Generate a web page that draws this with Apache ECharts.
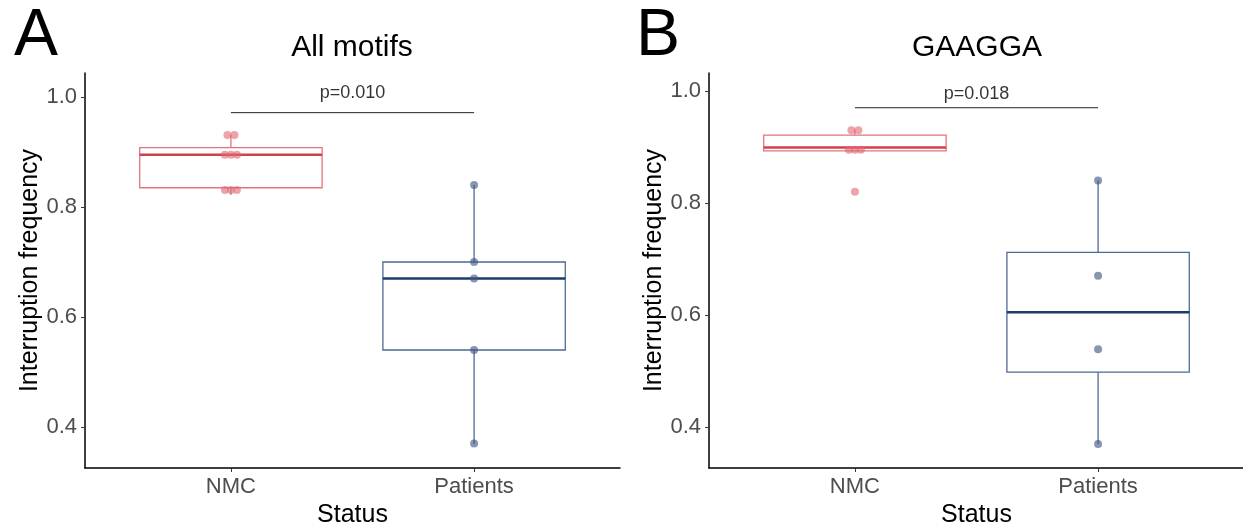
<!DOCTYPE html>
<html>
<head>
<meta charset="utf-8">
<script src="https://cdn.jsdelivr.net/npm/echarts@6/dist/echarts.min.js"></script>
<style>
html,body{margin:0;padding:0;background:#fff;}
#chart{width:1243px;height:527px;}
</style>
</head>
<body>
<div id="chart"></div>
<script>
// ---- data ----
const categories = ['NMC', 'Patients'];
const panelTitles = ['All motifs', 'GAAGGA'];
const panelLetters = ['A', 'B'];
const yTicks = [0.4, 0.6, 0.8, 1.0];
const pValues = ['p=0.010', 'p=0.018'];
const pBarY = [0.9715, 0.970];

// box stats: [min, Q1, median, Q3, max]
const boxA_NMC = [0.822, 0.835, 0.895, 0.908, 0.931];
const boxA_Pat = [0.369, 0.540, 0.670, 0.700, 0.840];
const boxB_NMC = [0.893, 0.893, 0.899, 0.921, 0.930];
const boxB_Pat = [0.370, 0.498, 0.605, 0.712, 0.840];

// individual points
const ptsA_NMC = [0.931, 0.931, 0.895, 0.895, 0.895, 0.831, 0.831, 0.831];
const ptsA_Pat = [0.840, 0.700, 0.670, 0.540, 0.370];
const ptsB_NMC = [0.930, 0.930, 0.895, 0.895, 0.895, 0.820];
const ptsB_Pat = [0.840, 0.670, 0.539, 0.370];

const yRangeA = [0.3255, 1.0436];
const yRangeB = [0.327, 1.032];

// ---- styles ----
const FONT = 'Liberation Sans, Arial, Helvetica, sans-serif';
const colors = [
  {outline: '#e3727c', median: '#d43f4c', point: 'rgba(224,104,114,0.75)'},
  {outline: '#4d6a92', median: '#1d3b6b', point: 'rgba(62,88,130,0.78)'}
];
const pLabelGap = [11, 5];

const chart = echarts.init(document.getElementById('chart'), null, {renderer: 'canvas'});

const grids = [
  {left: 85, top: 73, width: 535, height: 395, outerBoundsMode: 'none', containLabel: false},
  {left: 709, top: 73, width: 535, height: 395, outerBoundsMode: 'none', containLabel: false}
];

function xAxisFor(i) {
  return {
    gridIndex: i, type: 'value', min: 0.4, max: 2.6,
    name: 'Status', nameLocation: 'middle', nameGap: 31,
    nameTextStyle: {fontFamily: FONT, fontSize: 25, color: '#000'},
    axisLine: {show: true, lineStyle: {color: '#000', width: 1.5}},
    axisTick: {show: true, customValues: [1, 2], length: 4, lineStyle: {color: '#333', width: 1}},
    axisLabel: {show: true, customValues: [1, 2], margin: 8,
      formatter: v => categories[Math.round(v) - 1] || '',
      fontFamily: FONT, fontSize: 22, color: '#4d4d4d'},
    splitLine: {show: false}
  };
}
function yAxisFor(i, range) {
  return {
    gridIndex: i, type: 'value', min: range[0], max: range[1],
    name: 'Interruption frequency', nameLocation: 'middle', nameGap: 40, nameRotate: 90,
    nameTextStyle: {fontFamily: FONT, fontSize: 25, color: '#000'},
    axisLine: {show: true, lineStyle: {color: '#000', width: 1.5}},
    axisTick: {show: true, customValues: yTicks, length: 4, lineStyle: {color: '#333', width: 1}},
    axisLabel: {show: true, customValues: yTicks, margin: 8,
      formatter: v => Number(v).toFixed(1),
      fontFamily: FONT, fontSize: 22, color: '#4d4d4d'},
    splitLine: {show: false}
  };
}

function boxSeries(i, boxes) {
  return {
    type: 'custom', xAxisIndex: i, yAxisIndex: i, z: 2,
    data: boxes.map((b, k) => [k + 1].concat(b).concat([k])),
    renderItem: function (params, api) {
      const x = api.value(0);
      const mn = api.value(1), q1 = api.value(2), md = api.value(3), q3 = api.value(4), mx = api.value(5);
      const c = colors[api.value(6)];
      const hw = 0.375;
      const tl = api.coord([x - hw, q3]);
      const br = api.coord([x + hw, q1]);
      const top = api.coord([x, mx]);
      const bot = api.coord([x, mn]);
      const ml = api.coord([x - hw, md]);
      const mr = api.coord([x + hw, md]);
      return {
        type: 'group',
        children: [
          {type: 'line', shape: {x1: top[0], y1: top[1], x2: top[0], y2: tl[1]},
            style: {stroke: c.outline, lineWidth: 1.3}},
          {type: 'line', shape: {x1: bot[0], y1: bot[1], x2: bot[0], y2: br[1]},
            style: {stroke: c.outline, lineWidth: 1.3}},
          {type: 'rect', shape: {x: tl[0], y: tl[1], width: br[0] - tl[0], height: br[1] - tl[1]},
            style: {stroke: c.outline, fill: 'none', lineWidth: 1.3}},
          {type: 'line', shape: {x1: ml[0], y1: ml[1], x2: mr[0], y2: mr[1]},
            style: {stroke: c.median, lineWidth: 2.6}}
        ]
      };
    }
  };
}

function dodgedPoints(values, catIndex) {
  // group identical values and spread them sideways (beeswarm-like dodge)
  const counts = {};
  values.forEach(v => { counts[v] = (counts[v] || 0) + 1; });
  const seen = {};
  return values.map(v => {
    const n = counts[v];
    const k = seen[v] = (seen[v] === undefined ? 0 : seen[v] + 1);
    const spacing = n === 2 ? 7 : 6;
    return {value: [catIndex + 1, v], symbolOffset: [(k - (n - 1) / 2) * spacing, 0]};
  });
}

function pointSeries(i, values, catIndex) {
  return {
    type: 'scatter', xAxisIndex: i, yAxisIndex: i, z: 3,
    symbol: 'circle', symbolSize: 8,
    itemStyle: {color: colors[catIndex].point},
    data: dodgedPoints(values, catIndex),
    silent: true
  };
}

function pBar(i) {
  return [{
    type: 'line', xAxisIndex: i, yAxisIndex: i, z: 1,
    data: [[1, pBarY[i]], [2, pBarY[i]]],
    symbol: 'none', lineStyle: {color: '#222', width: 1}, silent: true
  }, {
    type: 'scatter', xAxisIndex: i, yAxisIndex: i, z: 1,
    data: [[1.5, pBarY[i]]], symbolSize: 0, silent: true,
    label: {show: true, position: 'top', distance: pLabelGap[i], formatter: pValues[i],
      fontFamily: FONT, fontSize: 18, color: '#000'}
  }];
}

const titleCenters = [[352, 48], [977, 48]];
const letterCenters = [[36, 37], [658, 37]];

const option = {
  animation: false,
  backgroundColor: '#fff',
  grid: grids,
  xAxis: [xAxisFor(0), xAxisFor(1)],
  yAxis: [yAxisFor(0, yRangeA), yAxisFor(1, yRangeB)],
  graphic: [0, 1].flatMap(i => [
    {type: 'text', x: titleCenters[i][0], y: titleCenters[i][1],
      style: {text: panelTitles[i], textAlign: 'center', textVerticalAlign: 'middle', font: '30px ' + FONT, fill: '#000'}},
    {type: 'text', x: letterCenters[i][0], y: letterCenters[i][1],
      style: {text: panelLetters[i], textAlign: 'center', textVerticalAlign: 'middle', font: '66px ' + FONT, fill: '#000'}}
  ]),
  series: [
    boxSeries(0, [boxA_NMC, boxA_Pat]),
    pointSeries(0, ptsA_NMC, 0),
    pointSeries(0, ptsA_Pat, 1),
    ...pBar(0),
    boxSeries(1, [boxB_NMC, boxB_Pat]),
    pointSeries(1, ptsB_NMC, 0),
    pointSeries(1, ptsB_Pat, 1),
    ...pBar(1)
  ]
};
chart.setOption(option);
</script>
</body>
</html>
